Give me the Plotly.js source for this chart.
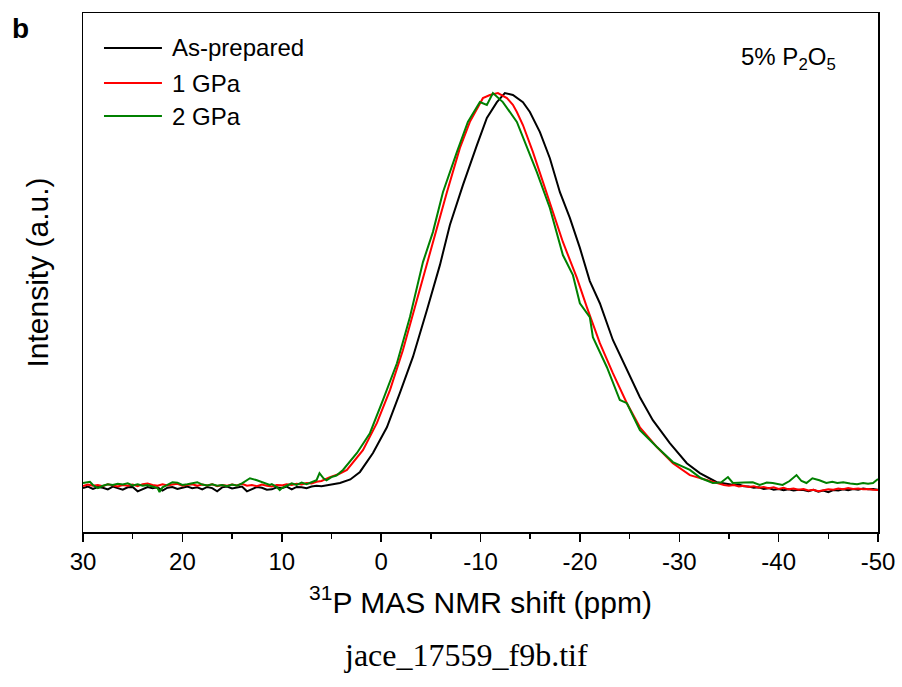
<!DOCTYPE html>
<html>
<head>
<meta charset="utf-8">
<script src="https://cdn.plot.ly/plotly-3.0.1.min.js"></script>
<style>html,body{margin:0;padding:0;background:#fff;}#chart{width:902px;height:687px;}</style>
</head>
<body>
<div id="chart"></div>
<script>
// ---- data ----
const seriesNames = ["As-prepared", "1 GPa", "2 GPa"];
const seriesColors = ["#000000", "#ff0000", "#008000"];
const xTickVals = [30, 20, 10, 0, -10, -20, -30, -40, -50];
const xTickText = ["30", "20", "10", "0", "-10", "-20", "-30", "-40", "-50"];

const ppmAsPrepared = [30,29.5,29,28.5,28,27.5,27,26.5,26,25.5,25,24.5,24,23.5,23,22.5,22,21.5,21,20.5,20,19.5,19,18.5,18,17.5,17,16.5,16,15.5,15,14.5,14,13.5,13,12.5,12,11.5,11,10.5,10,9.5,9,8.5,8,7.5,7,6.5,6,5.5,5,
  4.14,3.1,2.13,0.82,-0.58,-1.89,-3.2,-4.61,-5.61,-5.92,-6.92,-8.23,-9.64,-10.64,-11.65,-12.45,-13.26,-13.66,-14.27,-14.97,-15.98,-16.98,-17.99,-18.99,-20,-21,-22.01,-23.32,-24.73,-26.04,-27.34,-29.05,-30.76,-32.07,-33.78,
  -34.5,-35,-35.5,-36,-36.5,-37,-37.5,-38,-38.5,-39,-39.5,-40,-40.5,-41,-41.5,-42,-42.5,-43,-43.5,-44,-44.5,-45,-45.5,-46,-46.5,-47,-47.5,-48,-48.5,-49,-49.5,-50];
const intAsPrepared = [0.000,0.004,-0.002,0.003,0.001,-0.003,0.004,0.000,-0.004,0.002,0.003,-0.008,-0.002,0.003,0.000,0.002,-0.006,0.001,0.003,-0.002,0.001,0.004,0.000,0.002,-0.003,0.003,0.000,-0.008,0.002,0.004,-0.001,0.002,0.004,-0.008,-0.002,0.003,0.001,-0.004,-0.003,0.002,0.000,0.004,-0.003,0.003,0.002,0.000,0.004,0.006,0.005,0.007,0.010,
  0.013,0.022,0.041,0.089,0.154,0.241,0.332,0.451,0.534,0.565,0.666,0.767,0.868,0.937,0.977,1.000,0.995,0.987,0.977,0.952,0.901,0.835,0.749,0.684,0.608,0.524,0.468,0.375,0.299,0.230,0.172,0.114,0.063,0.038,0.015,
  0.012,0.010,0.008,0.009,0.005,0.004,0.001,0.002,-0.002,0.000,-0.004,-0.002,-0.005,-0.003,-0.006,-0.004,-0.005,-0.008,-0.004,-0.009,-0.006,-0.010,-0.005,-0.006,-0.003,-0.005,-0.002,-0.004,-0.001,-0.003,-0.002,-0.004];

const ppm1GPa = [30,29.5,29,28.5,28,27.5,27,26.5,26,25.5,25,24.5,24,23.5,23,22.5,22,21.5,21,20.5,20,19.5,19,18.5,18,17.5,17,16.5,16,15.5,15,14.5,14,13.5,13,12.5,12,11.5,11,10.5,10,9.5,9,8.5,8,7.5,7,6.5,6,
  5.15,4.3,3.44,1.83,0.42,-0.89,-2.19,-3.60,-4.61,-5.61,-6.62,-7.93,-8.93,-10.24,-10.95,-11.75,-12.66,-13.26,-13.66,-14.27,-15.27,-16.28,-17.28,-18.29,-19.70,-20.70,-22.01,-23.32,-24.73,-26.04,-27.75,-29.36,-31.07,-32.78,-33.78,
  -34.5,-35,-35.5,-36,-36.5,-37,-37.5,-38,-38.5,-39,-39.5,-40,-40.5,-41,-41.5,-42,-42.5,-43,-43.5,-44,-44.5,-45,-45.5,-46,-46.5,-47,-47.5,-48,-48.5,-49,-49.5,-50];
const int1GPa = [0.005,0.009,0.006,0.008,0.005,0.010,0.007,0.004,0.008,0.006,0.009,0.005,0.010,0.012,0.008,0.006,0.010,0.007,0.009,0.011,0.006,0.008,0.010,0.006,0.009,0.007,0.010,0.005,0.008,0.006,0.009,0.007,0.011,0.006,0.008,0.005,0.009,0.006,0.004,0.008,0.007,0.010,0.008,0.011,0.009,0.013,0.012,0.016,0.018,
  0.028,0.035,0.046,0.096,0.165,0.248,0.349,0.476,0.572,0.658,0.749,0.861,0.927,0.987,0.995,1.000,0.987,0.970,0.952,0.919,0.851,0.775,0.699,0.623,0.532,0.458,0.367,0.291,0.215,0.154,0.104,0.063,0.033,0.020,0.013,
  0.008,0.006,0.008,0.004,0.006,0.003,0.005,0.001,0.003,0.000,0.002,-0.002,0.001,-0.003,-0.001,-0.004,-0.002,-0.006,-0.004,-0.008,-0.005,-0.003,-0.004,-0.001,-0.003,0.000,-0.002,-0.001,-0.003,-0.002,-0.004,-0.005];

const ppm2GPa = [30,29.5,29.3,29,28.5,28,27.5,27,26.5,26,25.5,25,24.5,24,23.5,23,22.5,22.3,22,21.5,21,20.5,20,19.5,19,18.5,18,17.5,17,16.5,16,15.5,15,14.5,14,13.5,13.2,12.5,12,11.5,11.2,11,10.5,10.2,10,9.5,9,8.5,8,7.5,7,6.5,6.2,5.8,5.5,5,4.5,4.1,
  3.84,2.43,1.13,-0.18,-1.59,-2.90,-3.90,-4.21,-5.21,-6.22,-7.63,-8.73,-9.94,-10.64,-11.25,-12.25,-13.66,-14.67,-15.67,-16.98,-18.29,-19.30,-20.0,-21.0,-21.31,-22.72,-24.02,-24.73,-26.04,-27.75,-29.36,-31.07,-32.2,-33.38,
  -34.2,-34.9,-35.4,-36.5,-37.4,-38.1,-38.8,-39.4,-40.4,-41.1,-41.8,-42.3,-42.8,-43.4,-44.1,-44.8,-45.4,-45.9,-46.5,-47.2,-47.9,-48.5,-49.0,-49.5,-50];
const int2GPa = [0.013,0.015,0.016,0.008,0.000,0.006,0.010,0.008,0.011,0.009,0.012,0.007,0.010,0.006,0.008,0.004,0.000,-0.010,0.002,0.008,0.015,0.014,0.008,0.010,0.013,0.015,0.009,0.007,0.010,0.006,0.008,0.005,0.009,0.006,0.012,0.020,0.025,0.020,0.015,0.012,0.008,0.010,0.003,-0.005,0.000,0.006,0.012,0.008,0.014,0.010,0.016,0.020,0.038,0.025,0.020,0.028,0.032,0.040,
  0.046,0.089,0.139,0.223,0.316,0.433,0.534,0.572,0.648,0.749,0.851,0.927,0.977,0.970,1.000,0.977,0.927,0.861,0.800,0.709,0.590,0.539,0.468,0.433,0.382,0.306,0.223,0.215,0.147,0.104,0.066,0.046,0.025,0.013,
  0.014,0.028,0.013,0.014,0.015,0.008,0.014,0.013,0.008,0.018,0.033,0.018,0.013,0.025,0.020,0.013,0.016,0.013,0.015,0.012,0.010,0.013,0.011,0.013,0.023];

const xTitle = "<sup>31</sup>P MAS NMR shift (ppm)";
const yTitle = "Intensity (a.u.)";
const sampleLabel = "5% P<sub>2</sub>O<sub>5</sub>";
const panelLabel = "<b>b</b>";
const caption = "jace_17559_f9b.tif";

// ---- chart ----
const xs = [ppmAsPrepared, ppm1GPa, ppm2GPa];
const ys = [intAsPrepared, int1GPa, int2GPa];
const FONT = "Liberation Sans, Arial, sans-serif";

const traces = xs.map((x, i) => ({
  x: x, y: ys[i], type: "scatter", mode: "lines", name: seriesNames[i],
  line: {color: seriesColors[i], width: 2}, showlegend: false
}));

// manual legend (long line samples like the original)
const legY = [0.9326, 0.8651, 0.8015];
const shapes = seriesNames.map((n, i) => ({
  type: "line", xref: "paper", yref: "paper",
  x0: 0.0264, x1: 0.0993, y0: legY[i], y1: legY[i],
  line: {color: seriesColors[i], width: 2}
}));
const annotations = seriesNames.map((n, i) => ({
  xref: "paper", yref: "paper", x: 0.1094, y: legY[i], xanchor: "left", yanchor: "middle",
  text: n, showarrow: false, font: {family: FONT, size: 24, color: "#000"}
}));
annotations.push({xref: "paper", yref: "paper", x: 0.825, y: 0.912, xanchor: "left", yanchor: "middle",
  text: sampleLabel, showarrow: false, font: {family: FONT, size: 24, color: "#000"}});
annotations.push({xref: "paper", yref: "paper", x: -0.079, y: 0.971, xanchor: "center", yanchor: "middle",
  text: panelLabel, showarrow: false, font: {family: FONT, size: 28, color: "#000"}});
annotations.push({xref: "paper", yref: "paper", x: 0.482, y: -0.237, xanchor: "center", yanchor: "middle",
  text: caption, showarrow: false, font: {family: "Liberation Serif, serif", size: 32, color: "#000"}});

const layout = {
  width: 902, height: 687,
  margin: {l: 83, r: 24, t: 13, b: 155},
  paper_bgcolor: "#fff", plot_bgcolor: "#fff",
  showlegend: false,
  xaxis: {
    range: [30, -50], tickmode: "array", tickvals: xTickVals, ticktext: xTickText,
    ticks: "outside", ticklen: 8, tickwidth: 1.5, tickcolor: "#000",
    minor: {ticks: "outside", dtick: 5, tick0: 0, ticklen: 5, tickwidth: 1.5, tickcolor: "#000"},
    showline: true, mirror: true, linewidth: 1.5, linecolor: "#000",
    showgrid: false, zeroline: false,
    tickfont: {family: FONT, size: 24, color: "#000"},
    title: {text: xTitle, font: {family: FONT, size: 30, color: "#000"}, standoff: 17}
  },
  yaxis: {
    range: [-0.111, 1.2025], showticklabels: false, ticks: "",
    showline: true, mirror: true, linewidth: 1.5, linecolor: "#000",
    showgrid: false, zeroline: false,
    title: {text: yTitle, font: {family: FONT, size: 30, color: "#000"}, standoff: 24}
  },
  shapes: shapes,
  annotations: annotations
};

Plotly.newPlot("chart", traces, layout, {staticPlot: true, displayModeBar: false});
</script>
</body>
</html>
